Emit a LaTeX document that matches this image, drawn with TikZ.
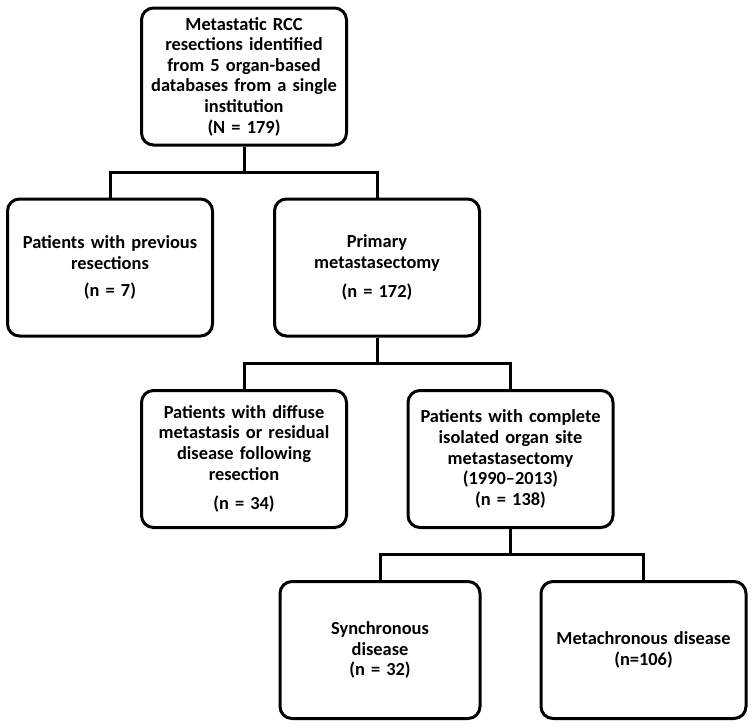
\documentclass[tikz,border=0pt]{standalone}
\usepackage{fontspec}
\setmainfont{Carlito}
\usetikzlibrary{positioning, calc}

\begin{document}
\begin{tikzpicture}[
        x=1pt, y=-1pt,
        every node/.style={font=\bfseries\fontsize{18.4}{20.6}\selectfont},
        box/.style={rectangle, rounded corners=12pt, draw=black, fill=white, line width=3pt, text width=196pt, align=center, minimum width=205pt, minimum height=137pt, inner sep=2pt},
        link/.style={line width=3pt, black}
    ]
        \useasboundingbox (0,0) rectangle (755,728);

        \node[box] (total) at (244,76.5) {Metastatic RCC\\resections identified\\from 5 organ-based\\databases from a single\\institution\\(N = 179)};

        \node[box] (prev) at (110,267.5) {Patients with previous\\resections\\[7pt](n = 7)};
        \node[box] (primary) at (377,267.5) {Primary\\metastasectomy\\[9pt](n = 172)};

        \node[box] (diffuse) at (244,459) {Patients with diffuse\\metastasis or residual\\disease following\\resection\\[9pt](n = 34)};
        \node[box] (complete) at (510.5,459) {Patients with complete\\isolated organ site\\metastasectomy\\(1990--2013)\\(n = 138)};

        \node[box, minimum width=198pt] (sync) at (380,650) {Synchronous\\disease\\(n = 32)};
        \node[box] (meta) at (643.5,650) {Metachronous disease\\(n=106)\\[8pt]};

        \coordinate (split1) at (244,172);
        \coordinate (split2) at (377,363);
        \coordinate (split3) at (510.5,554);

        \draw[link] (total.south) -- (split1);
        \draw[link] (prev.north) |- (split1) -| (primary.north);
        \draw[link] (primary.south) -- (split2);
        \draw[link] (diffuse.north) |- (split2) -| (complete.north);
        \draw[link] (complete.south) -- (split3);
        \draw[link] (sync.north) |- (split3) -| (meta.north);
    \end{tikzpicture}
\end{document}
